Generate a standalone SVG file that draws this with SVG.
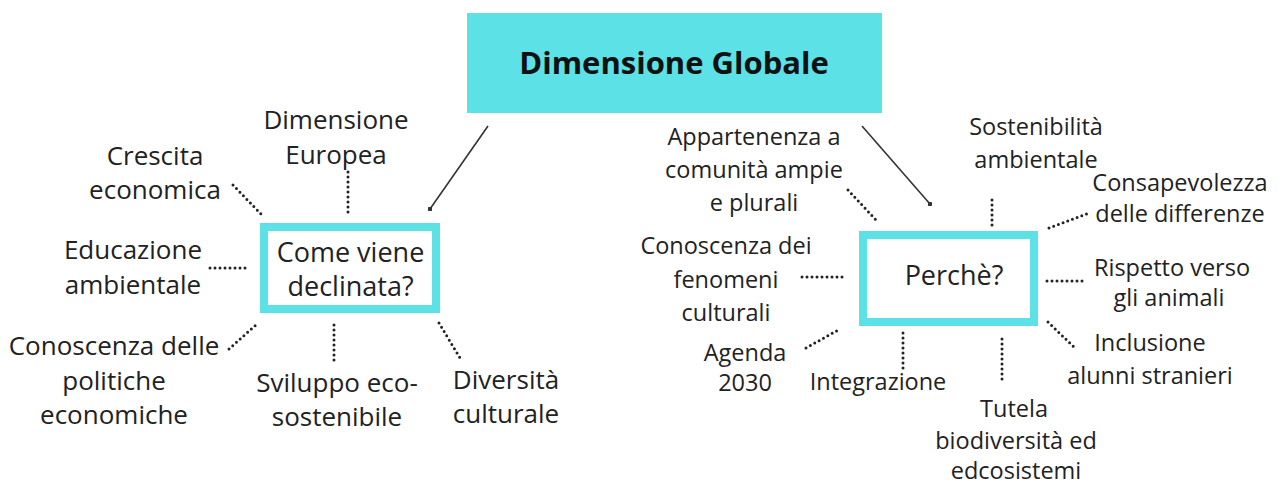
<svg xmlns="http://www.w3.org/2000/svg" width="1280" height="485" viewBox="0 0 1280 485">
<defs>
<style>
text{font-family:"Open Sans","Noto Sans","Liberation Sans",sans-serif;font-size:23.5px;fill:#222;text-anchor:middle}
.l text{font-size:26px}
.title{font-weight:bold;font-size:31px;fill:#111}
.bt{font-size:27px}
.dot{stroke:#222;stroke-width:3;stroke-linecap:round;stroke-dasharray:0 5;fill:none}
.arr{stroke:#333;stroke-width:1.6;fill:none;marker-end:url(#tip)}
.sub{fill:#fff;stroke:#5ce1e6;stroke-width:8}
</style>
<marker id="tip" viewBox="0 0 6 6" refX="3" refY="3" markerWidth="3" markerHeight="3" markerUnits="strokeWidth"><circle cx="3" cy="3" r="3" fill="#333"/></marker>
</defs>
<rect width="1280" height="485" fill="#fff"/>
<g id="connectors">
<line class="arr" x1="488" y1="126" x2="430" y2="209"/>
<line class="arr" x1="862" y1="126" x2="930" y2="204"/>
<line class="dot" x1="348" y1="172" x2="348" y2="214"/>
<line class="dot" x1="233" y1="185" x2="261" y2="214"/>
<line class="dot" x1="210" y1="268" x2="250" y2="268"/>
<line class="dot" x1="229" y1="349" x2="258" y2="323"/>
<line class="dot" x1="334" y1="325" x2="334" y2="365"/>
<line class="dot" x1="439" y1="323" x2="460" y2="358"/>
<line class="dot" x1="848" y1="190" x2="876" y2="220"/>
<line class="dot" x1="992" y1="200" x2="992" y2="227"/>
<line class="dot" x1="1049" y1="228" x2="1089" y2="213"/>
<line class="dot" x1="802" y1="277" x2="845" y2="277"/>
<line class="dot" x1="1047" y1="281" x2="1087" y2="281"/>
<line class="dot" x1="806" y1="348" x2="840" y2="329"/>
<line class="dot" x1="903" y1="333" x2="903" y2="371"/>
<line class="dot" x1="1002" y1="339" x2="1002" y2="380"/>
<line class="dot" x1="1048" y1="322" x2="1076" y2="349"/>
</g>
<g id="n-global">
<rect x="467" y="13" width="415" height="100" fill="#5ce1e6"/>
<text class="title" x="674" y="74">Dimensione Globale</text>
</g>
<g id="n-come">
<rect class="sub" x="264" y="227" width="172" height="82"/>
<text class="bt" x="350.5" y="262">Come viene</text>
<text class="bt" x="350.5" y="296">declinata?</text>
</g>
<g id="n-perche">
<rect class="sub" x="863" y="235" width="171" height="87"/>
<text class="bt" x="954" y="285">Perchè?</text>
</g>
<g class="l">
<g id="n-europea"><text x="336" y="129">Dimensione</text><text x="336" y="164">Europea</text></g>
<g id="n-crescita"><text x="155" y="165">Crescita</text><text x="155" y="199">economica</text></g>
<g id="n-educazione"><text x="133" y="259">Educazione</text><text x="133" y="294">ambientale</text></g>
<g id="n-politiche"><text x="114" y="355">Conoscenza delle</text><text x="114" y="390">politiche</text><text x="114" y="424">economiche</text></g>
<g id="n-sviluppo"><text x="337" y="392">Sviluppo eco-</text><text x="337" y="426">sostenibile</text></g>
<g id="n-diversita"><text x="506" y="389">Diversità</text><text x="506" y="423">culturale</text></g>
</g>
<g id="n-appartenenza"><text x="754" y="145">Appartenenza a</text><text x="754" y="178">comunità ampie</text><text x="754" y="211">e plurali</text></g>
<g id="n-sostenibilita"><text x="1036" y="135">Sostenibilità</text><text x="1036" y="168">ambientale</text></g>
<g id="n-consapevolezza"><text x="1180" y="191">Consapevolezza</text><text x="1180" y="222">delle differenze</text></g>
<g id="n-fenomeni"><text x="726" y="254">Conoscenza dei</text><text x="726" y="288">fenomeni</text><text x="726" y="321">culturali</text></g>
<g id="n-rispetto"><text x="1172" y="276">Rispetto verso</text><text x="1169" y="306">gli animali</text></g>
<g id="n-agenda"><text x="745" y="361">Agenda</text><text x="745" y="391">2030</text></g>
<g id="n-integrazione"><text x="878" y="390">Integrazione</text></g>
<g id="n-tutela"><text x="1014" y="417">Tutela</text><text x="1016" y="449">biodiversità ed</text><text x="1016" y="479">edcosistemi</text></g>
<g id="n-inclusione"><text x="1150" y="351">Inclusione</text><text x="1150" y="384">alunni stranieri</text></g>
</svg>
